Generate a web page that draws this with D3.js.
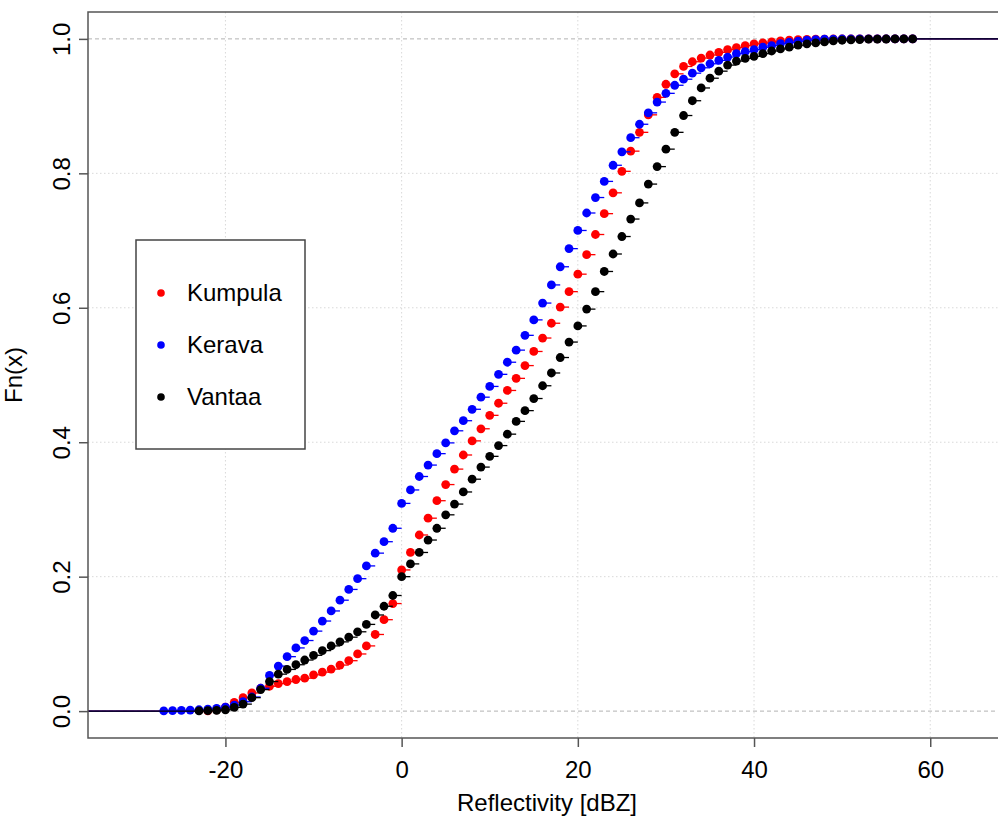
<!DOCTYPE html>
<html>
<head>
<meta charset="utf-8">
<script src="https://cdn.jsdelivr.net/npm/d3@7"></script>
<style>
  body { margin: 0; background: #fff; }
  svg { display: block; }
  text { font-family: "Liberation Sans", Arial, Helvetica, sans-serif; fill: #000; }
</style>
</head>
<body>
<svg id="chart" width="998" height="816"></svg>
<script>
// Reflectivity bins (dBZ) shared by the three stations
const dbzBins = [
  -27, -26, -25, -24, -23, -22, -21, -20, -19, -18,
  -17, -16, -15, -14, -13, -12, -11, -10,  -9,  -8,
   -7,  -6,  -5,  -4,  -3,  -2,  -1,   0,   1,   2,
    3,   4,   5,   6,   7,   8,   9,  10,  11,  12,
   13,  14,  15,  16,  17,  18,  19,  20,  21,  22,
   23,  24,  25,  26,  27,  28,  29,  30,  31,  32,
   33,  34,  35,  36,  37,  38,  39,  40,  41,  42,
   43,  44,  45,  46,  47,  48,  49,  50,  51,  52,
   53,  54,  55,  56,  57,  58
];

// Empirical CDF values per bin (null = no observation at that bin)
const kumpula = [
  null, null, null, null, null, 0.0005, 0.002, 0.006, 0.013, 0.020,
  0.027, 0.034, 0.037, 0.041, 0.044, 0.047, 0.049, 0.054, 0.058, 0.0625,
  0.0685, 0.075, 0.085, 0.097, 0.114, 0.136, 0.160, 0.210, 0.236, 0.262,
  0.287, 0.313, 0.337, 0.360, 0.381, 0.402, 0.420, 0.440, 0.458, 0.477,
  0.495, 0.514, 0.535, 0.555, 0.577, 0.601, 0.624, 0.650, 0.679, 0.709,
  0.740, 0.771, 0.803, 0.833, 0.861, 0.887, 0.913, 0.9325, 0.948, 0.959,
  0.966, 0.9715, 0.976, 0.980, 0.984, 0.987, 0.990, 0.9926, 0.994, 0.9955,
  0.997, 0.998, 0.9988, 0.9993, 0.9996, 0.9997, 0.9998, 0.9998, 0.9999, 0.9999,
  0.9999, 0.9999, 1.000, 1.000, 1.000, 1.000
];

const kerava = [
  0.0003, 0.0006, 0.001, 0.0015, 0.002, 0.003, 0.004, 0.006, 0.009, 0.014,
  0.021, 0.034, 0.053, 0.067, 0.081, 0.094, 0.105, 0.119, 0.134, 0.149,
  0.165, 0.181, 0.197, 0.216, 0.235, 0.252, 0.272, 0.309, 0.329, 0.349,
  0.366, 0.383, 0.399, 0.417, 0.432, 0.449, 0.467, 0.483, 0.501, 0.519,
  0.537, 0.559, 0.582, 0.607, 0.634, 0.661, 0.688, 0.715, 0.741, 0.764,
  0.788, 0.812, 0.832, 0.853, 0.873, 0.890, 0.906, 0.919, 0.931, 0.940,
  0.949, 0.957, 0.963, 0.968, 0.973, 0.978, 0.981, 0.984, 0.9876, 0.990,
  0.993, 0.995, 0.9965, 0.998, 0.999, 0.9995, 0.9997, 0.9998, 0.9998, 0.9999,
  0.9999, 0.9999, 1.000, 1.000, 1.000, 1.000
];

const vantaa = [
  null, null, null, null, 0.0003, 0.0006, 0.001, 0.002, 0.0055, 0.0104,
  0.020, 0.032, 0.044, 0.055, 0.062, 0.069, 0.076, 0.083, 0.090, 0.097,
  0.103, 0.110, 0.118, 0.129, 0.143, 0.156, 0.172, 0.200, 0.219, 0.236,
  0.2545, 0.272, 0.292, 0.308, 0.326, 0.345, 0.363, 0.379, 0.395, 0.412,
  0.431, 0.447, 0.465, 0.484, 0.503, 0.526, 0.549, 0.573, 0.598, 0.624,
  0.654, 0.680, 0.706, 0.732, 0.756, 0.784, 0.810, 0.836, 0.861, 0.886,
  0.908, 0.927, 0.9415, 0.952, 0.961, 0.967, 0.971, 0.974, 0.978, 0.982,
  0.985, 0.9876, 0.9906, 0.9926, 0.994, 0.9955, 0.997, 0.998, 0.9985, 0.999,
  0.9995, 0.9997, 0.9998, 0.9999, 0.9999, 1.000
];

const seriesNames  = ["Kumpula", "Kerava", "Vantaa"];
const seriesValues = [kumpula, kerava, vantaa];
const seriesColors = ["#ff0000", "#0000ff", "#000000"];

const xTicks = [-20, 0, 20, 40, 60];
const yTicks = [0.0, 0.2, 0.4, 0.6, 0.8, 1.0];
const xTitle = "Reflectivity [dBZ]";
const yTitle = "Fn(x)";

// ---- layout ----
const svg = d3.select("#chart");
const box = { left: 88, right: 1006, top: 12, bottom: 738 };
const fontSize = 24;

const x = d3.scaleLinear().domain([-35.6, 68.6]).range([box.left, box.right]);
const y = d3.scaleLinear().domain([-0.04, 1.04]).range([box.bottom, box.top]);

svg.append("defs").append("clipPath").attr("id", "plotClip")
  .append("rect")
  .attr("x", box.left).attr("y", box.top)
  .attr("width", box.right - box.left).attr("height", box.bottom - box.top);

const plotArea = svg.append("g").attr("clip-path", "url(#plotClip)");

// dotted grid
const grid = plotArea.append("g");
grid.selectAll("line.vg").data(xTicks).join("line")
  .attr("class", "vg")
  .attr("x1", d => x(d)).attr("x2", d => x(d))
  .attr("y1", box.top).attr("y2", box.bottom)
  .attr("stroke", "#d9d9d9").attr("stroke-width", 1).attr("stroke-dasharray", "1.5,2.5");
grid.selectAll("line.hg").data(yTicks.filter(v => v > 0 && v < 1)).join("line")
  .attr("class", "hg")
  .attr("x1", box.left).attr("x2", box.right)
  .attr("y1", d => y(d)).attr("y2", d => y(d))
  .attr("stroke", "#d9d9d9").attr("stroke-width", 1).attr("stroke-dasharray", "1.5,2.5");

// dashed reference lines at 0 and 1
grid.selectAll("line.ref").data([0, 1]).join("line")
  .attr("class", "ref")
  .attr("x1", box.left).attr("x2", box.right)
  .attr("y1", d => y(d)).attr("y2", d => y(d))
  .attr("stroke", "#b3b3b3").attr("stroke-width", 1).attr("stroke-dasharray", "4,3");

// step functions: horizontal segments then points
seriesValues.forEach((vals, si) => {
  const pts = dbzBins.map((b, i) => ({ b, v: vals[i] })).filter(p => p.v !== null);
  const segs = [];
  segs.push({ x0: x.invert(box.left - 10), x1: pts[0].b, v: 0 });
  pts.forEach((p, i) => {
    const next = i < pts.length - 1 ? pts[i + 1].b : x.invert(box.right + 10);
    segs.push({ x0: p.b, x1: next, v: p.v });
  });
  const g = plotArea.append("g");
  g.selectAll("line").data(segs).join("line")
    .attr("x1", d => x(d.x0)).attr("x2", d => x(d.x1))
    .attr("y1", d => y(d.v)).attr("y2", d => y(d.v))
    .attr("stroke", seriesColors[si]).attr("stroke-width", 1.3);
  g.selectAll("circle").data(pts).join("circle")
    .attr("cx", d => x(d.b)).attr("cy", d => y(d.v))
    .attr("r", 4.4)
    .attr("fill", seriesColors[si]);
});

// frame
svg.append("rect")
  .attr("x", box.left).attr("y", box.top)
  .attr("width", box.right - box.left).attr("height", box.bottom - box.top)
  .attr("fill", "none").attr("stroke", "#555").attr("stroke-width", 1.5);

// x axis
const xAxis = d3.axisBottom(x).tickValues(xTicks).tickSize(9).tickPadding(14)
  .tickFormat(d => String(d));
const gx = svg.append("g").attr("transform", `translate(0,${box.bottom})`).call(xAxis);
gx.select(".domain").remove();
gx.selectAll(".tick line").attr("stroke", "#555").attr("stroke-width", 1.5);
gx.selectAll(".tick text").attr("font-size", fontSize).attr("font-family", null).attr("fill", "#000");

// y axis with rotated labels
const yAxis = d3.axisLeft(y).tickValues(yTicks).tickSize(9).tickFormat(d3.format(".1f"));
const gy = svg.append("g").attr("transform", `translate(${box.left},0)`).call(yAxis);
gy.select(".domain").remove();
gy.selectAll(".tick line").attr("stroke", "#555").attr("stroke-width", 1.5);
gy.selectAll(".tick text")
  .attr("font-size", fontSize).attr("font-family", null).attr("fill", "#000")
  .attr("x", null).attr("dy", null)
  .attr("text-anchor", "middle")
  .attr("transform", "translate(-18,0) rotate(-90)")
  .attr("y", 0);

// axis titles
svg.append("text")
  .attr("x", (box.left + box.right) / 2).attr("y", 811)
  .attr("text-anchor", "middle").attr("font-size", fontSize)
  .text(xTitle);
svg.append("text")
  .attr("transform", `translate(22,${(box.top + box.bottom) / 2}) rotate(-90)`)
  .attr("text-anchor", "middle").attr("font-size", fontSize)
  .text(yTitle);

// legend
const legend = svg.append("g");
legend.append("rect")
  .attr("x", 136).attr("y", 240).attr("width", 169).attr("height", 209)
  .attr("fill", "#fff").attr("stroke", "#444").attr("stroke-width", 1.5);
const rowY = d3.scalePoint().domain(seriesNames).range([293, 397]);
seriesNames.forEach((name, i) => {
  legend.append("circle")
    .attr("cx", 161).attr("cy", rowY(name)).attr("r", 3.8)
    .attr("fill", seriesColors[i]);
  legend.append("text")
    .attr("x", 187).attr("y", rowY(name)).attr("dy", "0.35em")
    .attr("font-size", fontSize)
    .text(name);
});
</script>
</body>
</html>
